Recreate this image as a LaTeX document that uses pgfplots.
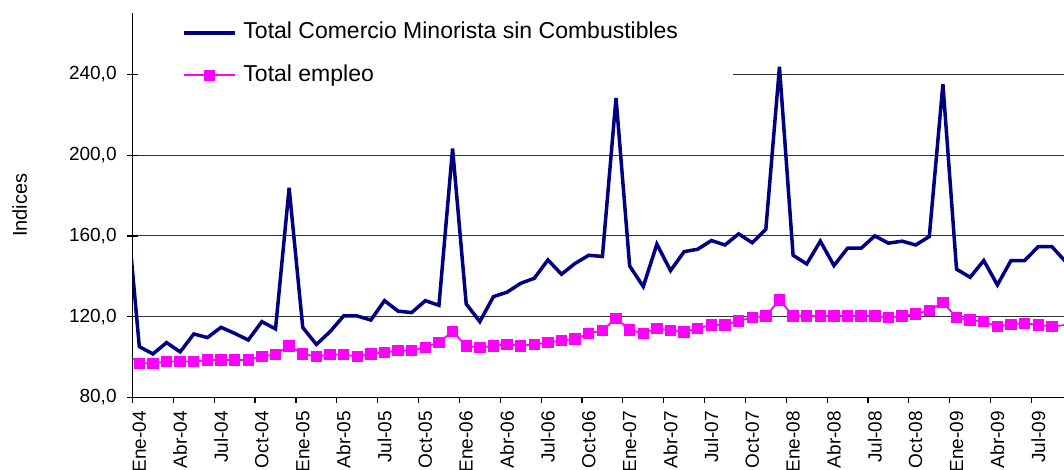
\documentclass[border=0pt]{standalone}
\usepackage{fontspec}
\setmainfont{Liberation Sans}
\usepackage{pgfplots}
\pgfplotsset{compat=1.18}
\definecolor{navyline}{RGB}{0,0,128}
\definecolor{magline}{RGB}{255,0,255}

% months since Ene-04 (0 = Ene-04, -1 = Dic-03)
\pgfplotstableread{
i    com    emp
-1   180.0  101.5
0    105.1  96.9
1    101.5  96.9
2    107.1  97.7
3    102.5  97.7
4    111.4  97.7
5    109.6  98.5
6    114.7  98.5
7    111.7  98.5
8    108.4  98.5
9    117.5  100.2
10   113.9  101.3
11   183.8  105.5
12   114.6  101.5
13   106.2  100.2
14   112.5  101.2
15   120.3  101.2
16   120.3  100.2
17   118.3  101.5
18   127.9  102.3
19   122.7  103.1
20   122.0  103.1
21   127.9  104.8
22   125.6  107.3
23   203.3  112.6
24   126.3  105.5
25   117.5  104.6
26   129.9  105.5
27   132.1  106.3
28   136.5  105.5
29   139.0  106.3
30   148.1  107.1
31   141.0  108.1
32   146.4  108.9
33   150.4  111.7
34   149.8  113.1
35   228.4  119.2
36   145.1  113.4
37   134.9  111.7
38   155.9  114.2
39   142.8  113.1
40   152.2  112.4
41   153.4  114.2
42   157.7  115.9
43   155.5  115.9
44   161.0  117.9
45   156.6  119.5
46   163.3  120.3
47   243.8  128.3
48   150.4  120.3
49   146.1  120.3
50   157.4  120.3
51   145.3  120.3
52   153.9  120.3
53   153.9  120.3
54   160.0  120.3
55   156.4  119.5
56   157.4  120.3
57   155.5  121.3
58   159.7  123.0
59   235.2  127.1
60   143.5  119.5
61   139.5  118.3
62   147.8  117.5
63   135.7  115.0
64   147.8  116.2
65   147.8  116.7
66   154.7  115.9
67   154.7  115.0
68   147.3  115.9
}\ventas

\begin{document}
\begin{tikzpicture}
\useasboundingbox (0,0) rectangle (532pt,235pt);
\begin{axis}[
  at={(66.25pt,36.35pt)}, anchor=south west,
  scale only axis, width=465.75pt, height=192.15pt,
  xmin=-0.5, xmax=67.89, ymin=80, ymax=270.5,
  axis x line*=bottom, axis y line*=left,
  axis line style={black, line width=0.6pt},
  /pgf/number format/assume math mode=true,
  tick label style={font=\fontsize{9.5}{11}\selectfont, black},
  xtick={0,3,...,66},
  xticklabels={Ene-04,Abr-04,Jul-04,Oct-04,Ene-05,Abr-05,Jul-05,Oct-05,
    Ene-06,Abr-06,Jul-06,Oct-06,Ene-07,Abr-07,Jul-07,Oct-07,
    Ene-08,Abr-08,Jul-08,Oct-08,Ene-09,Abr-09,Jul-09},
  minor xtick={-0.5,2.5,...,68.5},
  x tick label style={yshift=-4pt, rotate=90, anchor=east, inner sep=0pt},
  every major x tick/.append style={draw=none},
  every minor x tick/.append style={yshift=-1.5pt, black, line width=0.6pt},
  minor tick length=3pt,
  major tick length=5.5pt,
  tick align=center,
  ytick={80,120,160,200},
  extra y ticks={240},
  extra y tick style={grid=none},
  ymajorgrids,
  grid style={black!80, line width=0.5pt},
  y tick label style={inner sep=0pt, xshift=-5pt,
    /pgf/number format/.cd, fixed, fixed zerofill, precision=1, use comma},
  every major y tick/.append style={black, line width=0.6pt},
  ylabel={Indices},
  ylabel style={at={(axis description cs:-0.1212,0.5)}, anchor=center,
    font=\fontsize{10}{12}\selectfont},
  legend style={draw=none, fill=none, at={(0.0531,0.9776)}, anchor=north west,
    inner sep=0pt, row sep=10.5pt, column sep=3.3pt,
    font=\fontsize{11.5}{13}\selectfont,
    nodes={inner sep=0pt, text height=8.3pt, text depth=2.5pt}},
  legend cell align=left,
  legend image code/.code={\draw[mark repeat=2,mark phase=2,#1]
    plot coordinates {(0pt,0pt) (12.75pt,0pt) (25.5pt,0pt)};},
]
\draw[black!80, line width=0.5pt] (axis cs:43.58,240) -- (axis cs:67.89,240);
\addplot[navyline, line width=1.75pt, line join=miter, no markers] table[x=i, y=com] {\ventas};
\addlegendentry{Total Comercio Minorista sin Combustibles}
\addplot[magline, line width=0.9pt, mark=square*, mark size=2.6pt,
  mark options={solid, fill=magline, draw=magline, line width=0pt}] table[x=i, y=emp] {\ventas};
\addlegendentry{Total empleo}
\end{axis}
\end{tikzpicture}
\end{document}
